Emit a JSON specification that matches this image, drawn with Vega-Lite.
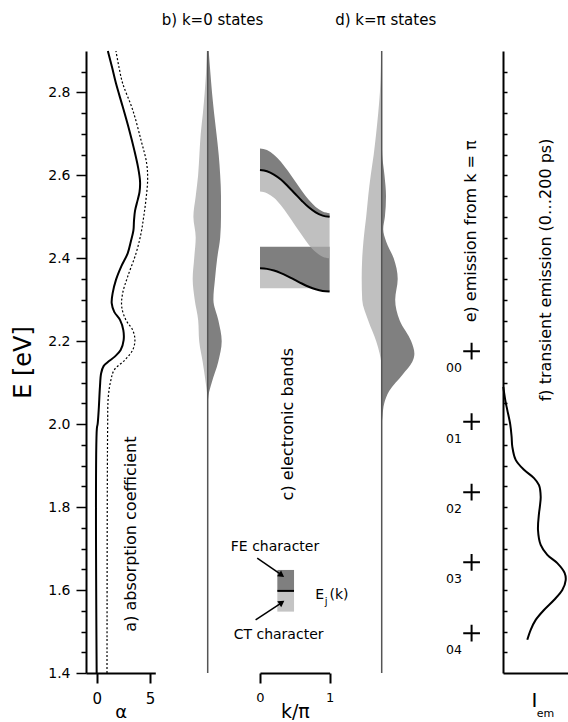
{
  "$schema": "https://vega.github.io/schema/vega-lite/v6.json",
  "background": "white",
  "padding": {"left": 11, "top": 12, "right": 0, "bottom": 0},
  "spacing": 0,
  "bounds": "flush",
  "config": {
    "view": {"stroke": null},
    "font": "DejaVu Sans",
    "axis": {"grid": false, "domainColor": "black", "tickColor": "black", "labelColor": "black", "titleColor": "black", "labelFont": "DejaVu Sans", "titleFont": "DejaVu Sans", "titleFontWeight": "normal"}
  },
  "datasets": {
    "absSolid": [
      {"E": 2.9, "alpha": 1.05}, {"E": 2.86, "alpha": 1.45}, {"E": 2.822, "alpha": 1.81}, {"E": 2.766, "alpha": 2.44},
      {"E": 2.709, "alpha": 3.06}, {"E": 2.661, "alpha": 3.53}, {"E": 2.62, "alpha": 3.88}, {"E": 2.585, "alpha": 4.07},
      {"E": 2.56, "alpha": 4.02}, {"E": 2.541, "alpha": 3.85}, {"E": 2.515, "alpha": 3.6}, {"E": 2.49, "alpha": 3.5},
      {"E": 2.468, "alpha": 3.45}, {"E": 2.44, "alpha": 3.2}, {"E": 2.412, "alpha": 2.91}, {"E": 2.38, "alpha": 2.3},
      {"E": 2.348, "alpha": 1.81}, {"E": 2.316, "alpha": 1.5}, {"E": 2.292, "alpha": 1.41}, {"E": 2.271, "alpha": 1.65},
      {"E": 2.251, "alpha": 2.2}, {"E": 2.227, "alpha": 2.5}, {"E": 2.203, "alpha": 2.53}, {"E": 2.179, "alpha": 2.25},
      {"E": 2.163, "alpha": 1.7}, {"E": 2.15, "alpha": 1.05}, {"E": 2.14, "alpha": 0.65}, {"E": 2.123, "alpha": 0.42},
      {"E": 2.091, "alpha": 0.31}, {"E": 2.034, "alpha": 0.19}, {"E": 2.0, "alpha": 0.09}, {"E": 1.99, "alpha": 0.02},
      {"E": 1.4, "alpha": 0}
    ],
    "absDotted": [
      {"E": 2.9, "alpha": 1.81}, {"E": 2.86, "alpha": 2.1}, {"E": 2.822, "alpha": 2.44}, {"E": 2.758, "alpha": 3.38},
      {"E": 2.685, "alpha": 4.16}, {"E": 2.629, "alpha": 4.69}, {"E": 2.589, "alpha": 4.78}, {"E": 2.541, "alpha": 4.62},
      {"E": 2.5, "alpha": 4.41}, {"E": 2.46, "alpha": 4.16}, {"E": 2.412, "alpha": 3.69}, {"E": 2.356, "alpha": 2.91},
      {"E": 2.316, "alpha": 2.44}, {"E": 2.283, "alpha": 2.35}, {"E": 2.251, "alpha": 2.75}, {"E": 2.227, "alpha": 3.38},
      {"E": 2.203, "alpha": 3.59}, {"E": 2.179, "alpha": 3.38}, {"E": 2.155, "alpha": 2.65}, {"E": 2.131, "alpha": 1.65},
      {"E": 2.107, "alpha": 1.34}, {"E": 2.066, "alpha": 1.09}, {"E": 1.994, "alpha": 1.03}, {"E": 1.4, "alpha": 0.97}
    ],
    "kzero": [
      {"E": 2.9, "lo": -0.8, "hi": 1.0}, {"E": 2.85, "lo": -1.6, "hi": 2.6}, {"E": 2.8, "lo": -3.0, "hi": 4.3},
      {"E": 2.75, "lo": -4.8, "hi": 6.4}, {"E": 2.7, "lo": -7.0, "hi": 8.8}, {"E": 2.65, "lo": -8.3, "hi": 11.0},
      {"E": 2.6, "lo": -9.6, "hi": 12.5}, {"E": 2.55, "lo": -12.0, "hi": 13.3}, {"E": 2.5, "lo": -14.3, "hi": 13.3},
      {"E": 2.45, "lo": -12.0, "hi": 12.5}, {"E": 2.4, "lo": -13.5, "hi": 9.5}, {"E": 2.35, "lo": -15.0, "hi": 7.3},
      {"E": 2.3, "lo": -13.0, "hi": 5.7}, {"E": 2.25, "lo": -9.5, "hi": 10.7}, {"E": 2.2, "lo": -8.5, "hi": 14.0},
      {"E": 2.15, "lo": -5.0, "hi": 10.5}, {"E": 2.1, "lo": -2.0, "hi": 4.0}, {"E": 2.07, "lo": -0.4, "hi": 0.8},
      {"E": 2.05, "lo": 0, "hi": 0}
    ],
    "kpi": [
      {"E": 2.9, "lo": -0.5, "hi": 0}, {"E": 2.8, "lo": -1.8, "hi": 0}, {"E": 2.75, "lo": -3.5, "hi": 0},
      {"E": 2.7, "lo": -5.6, "hi": 0}, {"E": 2.65, "lo": -8.0, "hi": 0.5}, {"E": 2.6, "lo": -11.0, "hi": 2.8},
      {"E": 2.55, "lo": -13.5, "hi": 4.3}, {"E": 2.5, "lo": -15.5, "hi": 3.2}, {"E": 2.47, "lo": -17.0, "hi": 1.5},
      {"E": 2.44, "lo": -18.3, "hi": 4.5}, {"E": 2.4, "lo": -19.5, "hi": 12.0}, {"E": 2.35, "lo": -20.0, "hi": 16.0},
      {"E": 2.3, "lo": -19.5, "hi": 13.5}, {"E": 2.25, "lo": -13.5, "hi": 18.0}, {"E": 2.2, "lo": -5.5, "hi": 29.5},
      {"E": 2.17, "lo": -2.0, "hi": 32.7}, {"E": 2.15, "lo": -0.5, "hi": 30.5}, {"E": 2.12, "lo": 0, "hi": 21.0},
      {"E": 2.08, "lo": 0, "hi": 7.5}, {"E": 2.05, "lo": 0, "hi": 2.5}, {"E": 2.02, "lo": 0, "hi": 0.8},
      {"E": 2.0, "lo": 0, "hi": 0}
    ],
    "bands": [
      {"k": 0.0, "upTop": 2.665, "upLine": 2.613, "upBot": 2.561, "loTop": 2.428, "loLine": 2.376, "loBot": 2.328},
      {"k": 0.1, "upTop": 2.661, "upLine": 2.61, "upBot": 2.557, "loTop": 2.428, "loLine": 2.3746, "loBot": 2.328},
      {"k": 0.2, "upTop": 2.65, "upLine": 2.602, "upBot": 2.546, "loTop": 2.428, "loLine": 2.3707, "loBot": 2.328},
      {"k": 0.3, "upTop": 2.633, "upLine": 2.59, "upBot": 2.528, "loTop": 2.428, "loLine": 2.3645, "loBot": 2.328},
      {"k": 0.4, "upTop": 2.611, "upLine": 2.574, "upBot": 2.505, "loTop": 2.428, "loLine": 2.3567, "loBot": 2.328},
      {"k": 0.5, "upTop": 2.587, "upLine": 2.5565, "upBot": 2.4805, "loTop": 2.428, "loLine": 2.348, "loBot": 2.328},
      {"k": 0.6, "upTop": 2.563, "upLine": 2.539, "upBot": 2.456, "loTop": 2.428, "loLine": 2.3393, "loBot": 2.328},
      {"k": 0.7, "upTop": 2.541, "upLine": 2.523, "upBot": 2.433, "loTop": 2.428, "loLine": 2.3315, "loBot": 2.328},
      {"k": 0.8, "upTop": 2.524, "upLine": 2.511, "upBot": 2.415, "loTop": 2.428, "loLine": 2.3253, "loBot": 2.3253},
      {"k": 0.9, "upTop": 2.513, "upLine": 2.503, "upBot": 2.404, "loTop": 2.428, "loLine": 2.3214, "loBot": 2.3214},
      {"k": 1.0, "upTop": 2.509, "upLine": 2.5, "upBot": 2.4, "loTop": 2.428, "loLine": 2.32, "loBot": 2.32}
    ],
    "vibronic": [
      {"E": 2.176, "label": "00"}, {"E": 2.006, "label": "01"}, {"E": 1.836, "label": "02"},
      {"E": 1.667, "label": "03"}, {"E": 1.496, "label": "04"}
    ],
    "transient": [
      {"E": 2.09, "I": 0.3}, {"E": 2.078, "I": 1.0}, {"E": 2.055, "I": 2.5}, {"E": 2.034, "I": 4.3},
      {"E": 2.0, "I": 7.2}, {"E": 1.97, "I": 8.6}, {"E": 1.946, "I": 9.3}, {"E": 1.914, "I": 12.7},
      {"E": 1.89, "I": 21}, {"E": 1.87, "I": 31}, {"E": 1.853, "I": 36}, {"E": 1.825, "I": 37.7},
      {"E": 1.8, "I": 36.8}, {"E": 1.785, "I": 36}, {"E": 1.745, "I": 35}, {"E": 1.709, "I": 37.7},
      {"E": 1.685, "I": 44.3}, {"E": 1.665, "I": 54.3}, {"E": 1.641, "I": 61.7}, {"E": 1.624, "I": 62.7},
      {"E": 1.6, "I": 59.3}, {"E": 1.576, "I": 51}, {"E": 1.552, "I": 41}, {"E": 1.528, "I": 32.7},
      {"E": 1.504, "I": 27.7}, {"E": 1.48, "I": 24.3}
    ]
  },
  "hconcat": [
    {
      "width": 69.3, "height": 622,
      "encoding": {
        "y": {"field": "E", "type": "quantitative", "scale": {"domain": [1.4, 2.9], "nice": false, "zero": false},
          "axis": {
            "values": [1.4, 1.45, 1.5, 1.55, 1.6, 1.65, 1.7, 1.75, 1.8, 1.85, 1.9, 1.95, 2.0, 2.05, 2.1, 2.15, 2.2, 2.25, 2.3, 2.35, 2.4, 2.45, 2.5, 2.55, 2.6, 2.65, 2.7, 2.75, 2.8, 2.85],
            "labelExpr": "abs(datum.value*5 - round(datum.value*5)) < 0.001 ? format(datum.value, '.1f') : ''",
            "tickSize": {"condition": {"test": "abs(datum.value*5 - round(datum.value*5)) < 0.001", "value": 10}, "value": 5},
            "tickWidth": 1.5, "domainWidth": 2, "labelFontSize": 14, "labelPadding": 6,
            "labelFlush": false, "labelOverlap": false,
            "title": "E [eV]", "titleFontSize": 24, "titlePadding": 12
          }}
      },
      "layer": [
        {"data": {"name": "absSolid"},
         "mark": {"type": "line", "color": "black", "strokeWidth": 2, "interpolate": "catmull-rom"},
         "encoding": {
           "x": {"field": "alpha", "type": "quantitative", "scale": {"domain": [-1, 5.5], "nice": false, "zero": false},
             "axis": {"values": [0, 5], "format": "d", "tickSize": 10, "tickWidth": 2, "domainWidth": 2, "labelFontSize": 15, "labelPadding": 8, "labelFlush": false, "title": "α", "titleFontSize": 18, "titlePadding": -3}},
           "order": {"field": "E", "type": "quantitative"}
         }},
        {"data": {"name": "absDotted"},
         "mark": {"type": "line", "color": "black", "strokeWidth": 1.2, "strokeDash": [2, 2], "interpolate": "catmull-rom"},
         "encoding": {
           "x": {"field": "alpha", "type": "quantitative", "scale": {"domain": [-1, 5.5], "nice": false, "zero": false}},
           "order": {"field": "E", "type": "quantitative"}
         }},
        {"data": {"values": [{"alpha": 3.2, "E": 1.735, "text": "a) absorption coefficient"}]},
         "mark": {"type": "text", "angle": 270, "fontSize": 16, "align": "center", "baseline": "middle", "color": "black"},
         "encoding": {
           "x": {"field": "alpha", "type": "quantitative", "scale": {"domain": [-1, 5.5], "nice": false, "zero": false}},
           "text": {"field": "text"}
         }}
      ]
    },
    {
      "width": 103.4, "height": 622,
      "encoding": {
        "y": {"field": "E", "type": "quantitative", "scale": {"domain": [1.4, 2.9], "nice": false, "zero": false}, "axis": null}
      },
      "layer": [
        {"data": {"name": "kzero"},
         "mark": {"type": "area", "orient": "horizontal", "interpolate": "monotone", "color": "#c0c0c0"},
         "encoding": {
           "x": {"field": "lo", "type": "quantitative", "scale": {"domain": [-51.7, 51.7], "nice": false, "zero": false}, "axis": null},
           "x2": {"datum": 0}
         }},
        {"data": {"name": "kzero"},
         "mark": {"type": "area", "orient": "horizontal", "interpolate": "monotone", "color": "#808080"},
         "encoding": {
           "x": {"field": "hi", "type": "quantitative", "scale": {"domain": [-51.7, 51.7], "nice": false, "zero": false}},
           "x2": {"datum": 0}
         }},
        {"data": {"values": [{"x": 0, "E": 1.4, "E2": 2.9}]},
         "mark": {"type": "rule", "color": "#555555", "strokeWidth": 1.5},
         "encoding": {
           "x": {"field": "x", "type": "quantitative", "scale": {"domain": [-51.7, 51.7], "nice": false, "zero": false}},
           "y2": {"field": "E2"}
         }},
        {"data": {"values": [{"x": 4.8, "E": 2.975, "text": "b) k=0 states"}]},
         "mark": {"type": "text", "fontSize": 15, "align": "center", "baseline": "middle", "color": "black"},
         "encoding": {
           "x": {"field": "x", "type": "quantitative", "scale": {"domain": [-51.7, 51.7], "nice": false, "zero": false}},
           "text": {"field": "text"}
         }}
      ]
    },
    {
      "width": 69.6, "height": 622,
      "encoding": {
        "y": {"field": "E", "type": "quantitative", "scale": {"domain": [1.4, 2.9], "nice": false, "zero": false}, "axis": null}
      },
      "layer": [
        {"data": {"name": "bands"},
         "mark": {"type": "area", "interpolate": "monotone", "color": "#7f7f7f"},
         "encoding": {
           "x": {"field": "k", "type": "quantitative", "scale": {"domain": [0, 1], "nice": false, "zero": false},
             "axis": {"values": [0, 1], "format": "d", "tickSize": 10, "tickWidth": 2, "domainWidth": 2, "labelFontSize": 13, "labelPadding": 8, "labelFlush": false, "title": "k/π", "titleFontSize": 19, "titlePadding": -2}},
           "y": {"field": "loLine", "type": "quantitative", "scale": {"domain": [1.4, 2.9], "nice": false, "zero": false}},
           "y2": {"field": "loTop"}
         }},
        {"data": {"name": "bands"},
         "mark": {"type": "area", "interpolate": "monotone", "color": "#c4c4c4"},
         "encoding": {
           "x": {"field": "k", "type": "quantitative", "scale": {"domain": [0, 1], "nice": false, "zero": false}},
           "y": {"field": "loBot", "type": "quantitative", "scale": {"domain": [1.4, 2.9], "nice": false, "zero": false}},
           "y2": {"field": "loLine"}
         }},
        {"data": {"name": "bands"},
         "mark": {"type": "area", "interpolate": "monotone", "color": "#ababab", "opacity": 0.75},
         "encoding": {
           "x": {"field": "k", "type": "quantitative", "scale": {"domain": [0, 1], "nice": false, "zero": false}},
           "y": {"field": "upBot", "type": "quantitative", "scale": {"domain": [1.4, 2.9], "nice": false, "zero": false}},
           "y2": {"field": "upLine"}
         }},
        {"data": {"name": "bands"},
         "mark": {"type": "area", "interpolate": "monotone", "color": "#7f7f7f"},
         "encoding": {
           "x": {"field": "k", "type": "quantitative", "scale": {"domain": [0, 1], "nice": false, "zero": false}},
           "y": {"field": "upLine", "type": "quantitative", "scale": {"domain": [1.4, 2.9], "nice": false, "zero": false}},
           "y2": {"field": "upTop"}
         }},
        {"data": {"name": "bands"},
         "mark": {"type": "line", "interpolate": "monotone", "color": "black", "strokeWidth": 2},
         "encoding": {
           "x": {"field": "k", "type": "quantitative", "scale": {"domain": [0, 1], "nice": false, "zero": false}},
           "y": {"field": "upLine", "type": "quantitative", "scale": {"domain": [1.4, 2.9], "nice": false, "zero": false}}
         }},
        {"data": {"name": "bands"},
         "mark": {"type": "line", "interpolate": "monotone", "color": "black", "strokeWidth": 2},
         "encoding": {
           "x": {"field": "k", "type": "quantitative", "scale": {"domain": [0, 1], "nice": false, "zero": false}},
           "y": {"field": "loLine", "type": "quantitative", "scale": {"domain": [1.4, 2.9], "nice": false, "zero": false}}
         }},
        {"data": {"values": [
            {"part": "FE", "k": 0.249, "k2": 0.489, "E": 1.598, "E2": 1.6485},
            {"part": "CT", "k": 0.249, "k2": 0.489, "E": 1.548, "E2": 1.598}]},
         "mark": {"type": "rect"},
         "encoding": {
           "x": {"field": "k", "type": "quantitative", "scale": {"domain": [0, 1], "nice": false, "zero": false}},
           "x2": {"field": "k2"},
           "y2": {"field": "E2"},
           "color": {"field": "part", "type": "nominal", "scale": {"domain": ["FE", "CT"], "range": ["#7f7f7f", "#c4c4c4"]}, "legend": null}
         }},
        {"data": {"values": [{"k": 0.249, "k2": 0.489, "E": 1.598}]},
         "mark": {"type": "rule", "color": "black", "strokeWidth": 2},
         "encoding": {
           "x": {"field": "k", "type": "quantitative", "scale": {"domain": [0, 1], "nice": false, "zero": false}},
           "x2": {"field": "k2"}
         }},
        {"data": {"values": [
            {"k": -0.04, "E": 1.677, "k2": 0.325, "E2": 1.635},
            {"k": -0.063, "E": 1.528, "k2": 0.325, "E2": 1.571}]},
         "mark": {"type": "rule", "color": "black", "strokeWidth": 1.5},
         "encoding": {
           "x": {"field": "k", "type": "quantitative", "scale": {"domain": [0, 1], "nice": false, "zero": false}},
           "x2": {"field": "k2"},
           "y2": {"field": "E2"}
         }},
        {"data": {"values": [{"k": 0.31, "E": 1.636}]},
         "mark": {"type": "point", "shape": "triangle-right", "filled": true, "color": "black", "size": 50, "angle": 35, "opacity": 1},
         "encoding": {
           "x": {"field": "k", "type": "quantitative", "scale": {"domain": [0, 1], "nice": false, "zero": false}}
         }},
        {"data": {"values": [{"k": 0.313, "E": 1.570}]},
         "mark": {"type": "point", "shape": "triangle-right", "filled": true, "color": "black", "size": 50, "angle": 326, "opacity": 1},
         "encoding": {
           "x": {"field": "k", "type": "quantitative", "scale": {"domain": [0, 1], "nice": false, "zero": false}}
         }},
        {"data": {"values": [
            {"k": 0.2155, "E": 1.705, "text": "FE character"},
            {"k": 0.267, "E": 1.492, "text": "CT character"},
            {"k": 0.859, "E": 1.588, "text": "E"},
            {"k": 1.135, "E": 1.588, "text": "(k)"}]},
         "mark": {"type": "text", "fontSize": 14, "align": "center", "baseline": "middle", "color": "black"},
         "encoding": {
           "x": {"field": "k", "type": "quantitative", "scale": {"domain": [0, 1], "nice": false, "zero": false}},
           "text": {"field": "text"}
         }},
        {"data": {"values": [{"k": 0.95, "E": 1.572, "text": "j"}]},
         "mark": {"type": "text", "fontSize": 10, "align": "center", "baseline": "middle", "color": "black"},
         "encoding": {
           "x": {"field": "k", "type": "quantitative", "scale": {"domain": [0, 1], "nice": false, "zero": false}},
           "text": {"field": "text"}
         }},
        {"data": {"values": [{"k": 0.407, "E": 2.0, "text": "c) electronic bands"}]},
         "mark": {"type": "text", "angle": 270, "fontSize": 16, "align": "center", "baseline": "middle", "color": "black"},
         "encoding": {
           "x": {"field": "k", "type": "quantitative", "scale": {"domain": [0, 1], "nice": false, "zero": false}},
           "text": {"field": "text"}
         }}
      ]
    },
    {
      "width": 103.4, "height": 622,
      "encoding": {
        "y": {"field": "E", "type": "quantitative", "scale": {"domain": [1.4, 2.9], "nice": false, "zero": false}, "axis": null}
      },
      "layer": [
        {"data": {"name": "kpi"},
         "mark": {"type": "area", "orient": "horizontal", "interpolate": "monotone", "color": "#c0c0c0"},
         "encoding": {
           "x": {"field": "lo", "type": "quantitative", "scale": {"domain": [-51.7, 51.7], "nice": false, "zero": false}, "axis": null},
           "x2": {"datum": 0}
         }},
        {"data": {"name": "kpi"},
         "mark": {"type": "area", "orient": "horizontal", "interpolate": "monotone", "color": "#808080"},
         "encoding": {
           "x": {"field": "hi", "type": "quantitative", "scale": {"domain": [-51.7, 51.7], "nice": false, "zero": false}},
           "x2": {"datum": 0}
         }},
        {"data": {"values": [{"x": 0, "E": 1.4, "E2": 2.9}]},
         "mark": {"type": "rule", "color": "#555555", "strokeWidth": 1.5},
         "encoding": {
           "x": {"field": "x", "type": "quantitative", "scale": {"domain": [-51.7, 51.7], "nice": false, "zero": false}},
           "y2": {"field": "E2"}
         }},
        {"data": {"values": [{"x": 4, "E": 2.975, "text": "d) k=π states"}]},
         "mark": {"type": "text", "fontSize": 15, "align": "center", "baseline": "middle", "color": "black"},
         "encoding": {
           "x": {"field": "x", "type": "quantitative", "scale": {"domain": [-51.7, 51.7], "nice": false, "zero": false}},
           "text": {"field": "text"}
         }}
      ]
    },
    {
      "width": 68.6, "height": 622,
      "encoding": {
        "y": {"field": "E", "type": "quantitative", "scale": {"domain": [1.4, 2.9], "nice": false, "zero": false}, "axis": null}
      },
      "layer": [
        {"data": {"name": "vibronic"},
         "mark": {"type": "point", "shape": "M-1,0L1,0M0,-1L0,1", "filled": false, "color": "black", "strokeWidth": 2, "size": 280, "opacity": 1},
         "encoding": {
           "x": {"datum": 0.548, "type": "quantitative", "scale": {"domain": [0, 1], "nice": false, "zero": false}, "axis": null}
         }},
        {"data": {"name": "vibronic"},
         "mark": {"type": "text", "fontSize": 12.5, "align": "center", "baseline": "middle", "color": "black", "dy": 17},
         "encoding": {
           "x": {"datum": 0.29, "type": "quantitative"},
           "text": {"field": "label"}
         }},
        {"data": {"values": [{"x": 0.536, "E": 2.465, "text": "e) emission from k = π"}]},
         "mark": {"type": "text", "angle": 270, "fontSize": 16, "align": "center", "baseline": "middle", "color": "black"},
         "encoding": {
           "x": {"field": "x", "type": "quantitative"},
           "text": {"field": "text"}
         }}
      ]
    },
    {
      "width": 68.7, "height": 622,
      "encoding": {
        "y": {"field": "E", "type": "quantitative", "scale": {"domain": [1.4, 2.9], "nice": false, "zero": false},
          "axis": {"values": [1.45, 1.5, 1.55, 1.6, 1.65, 1.7, 1.75, 1.8, 1.85, 1.9, 1.95, 2.0, 2.05, 2.1, 2.15, 2.2, 2.25, 2.3, 2.35, 2.4, 2.45, 2.5, 2.55, 2.6, 2.65, 2.7, 2.75, 2.8, 2.85],
            "tickSize": -4, "tickWidth": 1.5, "domainWidth": 2, "labels": false, "title": null}}
      },
      "layer": [
        {"data": {"name": "transient"},
         "mark": {"type": "line", "color": "black", "strokeWidth": 2, "interpolate": "catmull-rom"},
         "encoding": {
           "x": {"field": "I", "type": "quantitative", "scale": {"domain": [0, 68.7], "nice": false, "zero": false},
             "axis": {"ticks": false, "labels": false, "domainWidth": 2, "title": null}},
           "order": {"field": "E", "type": "quantitative"}
         }},
        {"data": {"values": [{"I": 43.2, "E": 2.372, "text": "f) transient emission (0…200 ps)"}]},
         "mark": {"type": "text", "angle": 270, "fontSize": 16, "align": "center", "baseline": "middle", "color": "black"},
         "encoding": {
           "x": {"field": "I", "type": "quantitative", "scale": {"domain": [0, 68.7], "nice": false, "zero": false}},
           "text": {"field": "text"}
         }},
        {"data": {"values": [{"I": 31.5, "E": 1.333, "text": "I"}]},
         "mark": {"type": "text", "fontSize": 20, "align": "center", "baseline": "middle", "color": "black"},
         "encoding": {
           "x": {"field": "I", "type": "quantitative", "scale": {"domain": [0, 68.7], "nice": false, "zero": false}},
           "text": {"field": "text"}
         }},
        {"data": {"values": [{"I": 42.4, "E": 1.301, "text": "em"}]},
         "mark": {"type": "text", "fontSize": 11, "align": "center", "baseline": "middle", "color": "black"},
         "encoding": {
           "x": {"field": "I", "type": "quantitative", "scale": {"domain": [0, 68.7], "nice": false, "zero": false}},
           "text": {"field": "text"}
         }}
      ]
    }
  ]
}
